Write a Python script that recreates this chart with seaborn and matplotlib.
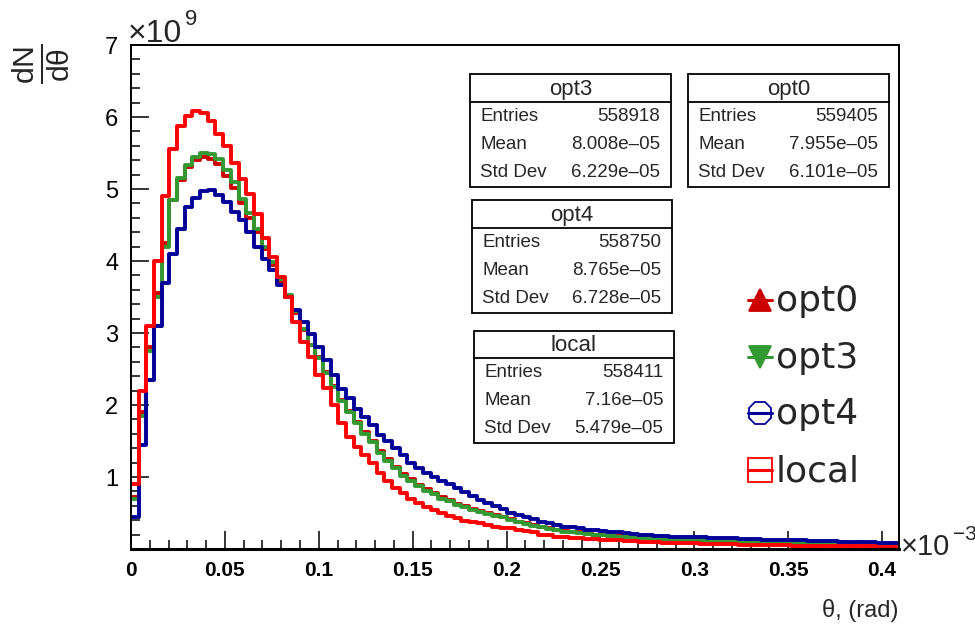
import numpy as np
import pandas as pd
import matplotlib
matplotlib.use("Agg")
import matplotlib.pyplot as plt
from matplotlib.lines import Line2D
from matplotlib.patches import Rectangle
from matplotlib.ticker import MultipleLocator
import seaborn as sns

# ---------------- data (theta in units of 1e-3 rad, dN/dtheta in units of 1e9) -------------
THETA_MAX = 0.409
N_BINS = 100

series_names = ["opt0", "opt3", "opt4", "local"]
series_colors = ["#cc0000", "#339933", "#000099", "#ff0000"]

opt0 = [0.72, 1.9, 2.8, 3.55, 4.25, 4.85, 5.12, 5.3, 5.4, 5.45,
        5.42, 5.35, 5.18, 5.02, 4.8, 4.6, 4.4, 4.16, 3.95, 3.72,
        3.5, 3.28, 3.04, 2.84, 2.66, 2.46, 2.26, 2.07, 1.92, 1.77,
        1.63, 1.5, 1.36, 1.25, 1.14, 1.04, 0.97, 0.89, 0.83, 0.78,
        0.72, 0.68, 0.63, 0.6, 0.56, 0.53, 0.5, 0.47, 0.45, 0.41,
        0.38, 0.36, 0.33, 0.31, 0.29, 0.27, 0.25, 0.24, 0.23, 0.22,
        0.2, 0.19, 0.18, 0.175, 0.17, 0.16, 0.155, 0.15, 0.145, 0.14,
        0.135, 0.13, 0.125, 0.12, 0.115, 0.11, 0.11, 0.105, 0.1, 0.1,
        0.095, 0.09, 0.09, 0.085, 0.085, 0.08, 0.08, 0.076, 0.075, 0.073,
        0.07, 0.068, 0.066, 0.065, 0.063, 0.062, 0.06, 0.058, 0.057, 0.055]

opt3 = [0.7, 1.85, 2.75, 3.5, 4.2, 4.85, 5.15, 5.33, 5.45, 5.5,
        5.48, 5.42, 5.27, 5.1, 4.86, 4.66, 4.45, 4.2, 3.98, 3.75,
        3.53, 3.3, 3.05, 2.84, 2.65, 2.45, 2.25, 2.05, 1.9, 1.75,
        1.6, 1.48, 1.33, 1.22, 1.12, 1.02, 0.95, 0.87, 0.81, 0.76,
        0.7, 0.66, 0.61, 0.58, 0.54, 0.51, 0.49, 0.46, 0.44, 0.4,
        0.37, 0.35, 0.32, 0.3, 0.28, 0.26, 0.24, 0.23, 0.22, 0.21,
        0.2, 0.19, 0.18, 0.17, 0.165, 0.16, 0.155, 0.15, 0.145, 0.14,
        0.14, 0.13, 0.125, 0.12, 0.12, 0.115, 0.11, 0.11, 0.105, 0.1,
        0.1, 0.095, 0.095, 0.09, 0.09, 0.085, 0.085, 0.08, 0.08, 0.078,
        0.075, 0.073, 0.07, 0.07, 0.068, 0.066, 0.065, 0.063, 0.062, 0.06]

opt4 = [0.45, 1.45, 2.35, 3.1, 3.7, 4.1, 4.45, 4.75, 4.87, 4.97,
        4.98, 4.92, 4.82, 4.68, 4.57, 4.4, 4.2, 4.03, 3.87, 3.67,
        3.5, 3.32, 3.15, 2.98, 2.8, 2.62, 2.42, 2.22, 2.1, 1.95,
        1.84, 1.72, 1.58, 1.5, 1.4, 1.3, 1.2, 1.13, 1.05, 1.0,
        0.95, 0.9, 0.85, 0.79, 0.74, 0.68, 0.64, 0.6, 0.55, 0.5,
        0.47, 0.45, 0.42, 0.38, 0.36, 0.34, 0.31, 0.3, 0.29, 0.27,
        0.26, 0.25, 0.24, 0.23, 0.22, 0.21, 0.2, 0.19, 0.18, 0.18,
        0.17, 0.17, 0.17, 0.16, 0.16, 0.15, 0.15, 0.15, 0.15, 0.14,
        0.14, 0.14, 0.13, 0.13, 0.125, 0.125, 0.12, 0.12, 0.115, 0.11,
        0.11, 0.105, 0.1, 0.1, 0.1, 0.095, 0.095, 0.09, 0.09, 0.09]

local = [0.9, 2.2, 3.1, 4.0, 4.9, 5.55, 5.88, 6.02, 6.08, 6.06,
         5.95, 5.76, 5.6, 5.36, 5.14, 4.93, 4.65, 4.32, 4.05, 3.78,
         3.5, 3.15, 2.88, 2.67, 2.42, 2.24, 2.0, 1.75, 1.56, 1.41,
         1.31, 1.2, 1.05, 0.95, 0.85, 0.78, 0.7, 0.64, 0.58, 0.54,
         0.5, 0.46, 0.43, 0.39, 0.37, 0.36, 0.33, 0.31, 0.29, 0.29,
         0.27, 0.25, 0.23, 0.2, 0.19, 0.17, 0.16, 0.155, 0.15, 0.14,
         0.135, 0.13, 0.125, 0.12, 0.115, 0.11, 0.1, 0.1, 0.095, 0.09,
         0.09, 0.085, 0.08, 0.08, 0.075, 0.07, 0.07, 0.065, 0.065, 0.06,
         0.06, 0.058, 0.055, 0.055, 0.05, 0.05, 0.048, 0.046, 0.045, 0.044,
         0.042, 0.04, 0.04, 0.038, 0.037, 0.035, 0.035, 0.034, 0.033, 0.032]

series_values = {"opt0": opt0, "opt3": opt3, "opt4": opt4, "local": local}

# statistics boxes
stat_names = ["opt3", "opt0", "opt4", "local"]
stat_entries = ["558918", "559405", "558750", "558411"]
stat_means = ["8.008e\u201305", "7.955e\u201305", "8.765e\u201305", "7.16e\u201305"]
stat_stds = ["6.229e\u201305", "6.101e\u201305", "6.728e\u201305", "5.479e\u201305"]

x_ticks = [0, 0.05, 0.1, 0.15, 0.2, 0.25, 0.3, 0.35, 0.4]
x_tick_labels = ["0", "0.05", "0.1", "0.15", "0.2", "0.25", "0.3", "0.35", "0.4"]
y_ticks = [1, 2, 3, 4, 5, 6, 7]
y_tick_labels = ["1", "2", "3", "4", "5", "6", "7"]

# ---------------- figure ----------------
sns.set_style("white")
plt.rcParams["font.family"] = ["Liberation Sans", "DejaVu Sans"]
plt.rcParams["mathtext.fontset"] = "custom"
plt.rcParams["mathtext.rm"] = "Liberation Sans"
plt.rcParams["mathtext.it"] = "Liberation Sans"

W, H = 975, 632
def fx(p):
    return p / W
def fy(p):
    return 1 - p / H

fig = plt.figure(figsize=(W / 100, H / 100), dpi=100)
fig.patch.set_facecolor("white")
AX_L, AX_R, AX_T, AX_B = 131, 899, 45, 549
ax = fig.add_axes([fx(AX_L), fy(AX_B), (AX_R - AX_L) / W, (AX_B - AX_T) / H])

edges = np.linspace(0, THETA_MAX, N_BINS + 1)
centers = 0.5 * (edges[:-1] + edges[1:])
rows = []
for name in series_names:
    for c, v in zip(centers, series_values[name]):
        rows.append({"theta": c, "dNdtheta": v, "series": name})
df = pd.DataFrame(rows)

for name, col in zip(series_names, series_colors):
    sub = df[df["series"] == name]
    sns.histplot(data=sub, x="theta", weights="dNdtheta", bins=edges.tolist(),
                 element="step", fill=False, color=col, linewidth=2.8,
                 ax=ax, legend=False)

ax.set_xlim(0, THETA_MAX)
ax.set_ylim(0, 7)
ax.set_xlabel("")
ax.set_ylabel("")

ax.set_xticks(x_ticks)
ax.set_xticklabels(x_tick_labels, fontsize=15, fontweight="bold")
ax.set_yticks(y_ticks)
ax.set_yticklabels(y_tick_labels, fontsize=17)
ax.xaxis.set_minor_locator(MultipleLocator(0.01))
ax.yaxis.set_minor_locator(MultipleLocator(0.2))
ax.tick_params(which="both", bottom=True, left=True, top=False, right=False)
ax.tick_params(which="major", direction="in", length=13, width=1.1,
               colors="black", pad=9)
ax.tick_params(which="minor", direction="in", length=6.5, width=1.1,
               colors="black")
for s in ax.spines.values():
    s.set_color("black")
    s.set_linewidth(1.4)
ax.spines["bottom"].set_linewidth(2.2)
ax.grid(False)

# axis titles / exponents
fig.text(fx(41), fy(64), r"$\frac{\mathrm{dN}}{\mathrm{d}\theta}$", rotation=90,
         fontsize=31, ha="center", va="center")
fig.text(fx(898), fy(617), "\u03b8, (rad)", fontsize=17, ha="right", va="baseline")
fig.text(fx(128), fy(42), "\u00d710", fontsize=23, ha="left", va="baseline")
fig.text(fx(185), fy(25), "9", fontsize=16, ha="left", va="baseline")
fig.text(fx(901), fy(555), "\u00d710", fontsize=21, ha="left", va="baseline")
fig.text(fx(953), fy(540), "\u22123", fontsize=15, ha="left", va="baseline")

# statistics boxes (left, top, right, bottom, title separator) in pixels
box_geom = [(470, 74, 671, 187, 102), (688, 74, 889, 187, 102),
            (472, 200, 672, 313, 228), (474, 331, 674, 443, 358)]
for name, ent, mean, std, (l, t, r, b, sep) in zip(stat_names, stat_entries,
                                                   stat_means, stat_stds, box_geom):
    fig.add_artist(Rectangle((fx(l), fy(b)), (r - l) / W, (b - t) / H,
                             transform=fig.transFigure, facecolor="white",
                             edgecolor="black", linewidth=1.3, zorder=5))
    fig.add_artist(Line2D([fx(l), fx(r)], [fy(sep), fy(sep)],
                          transform=fig.transFigure, color="black",
                          linewidth=1.3, zorder=6))
    fig.text(fx((l + r) / 2), fy((t + sep) / 2 + 1), name, fontsize=16,
             ha="center", va="center", zorder=7)
    labels = ["Entries", "Mean", "Std Dev"]
    vals = [ent, mean, std]
    for k in range(3):
        yy = sep + (b - sep) * (k + 0.5) / 3
        fig.text(fx(l + 10), fy(yy), labels[k], fontsize=13.5, ha="left",
                 va="center", zorder=7)
        fig.text(fx(r - 11), fy(yy), vals[k], fontsize=13.5, ha="right",
                 va="center", zorder=7)

# legend (drawn manually, ROOT style)
leg_rows = [300, 357, 413, 470]
leg_markers = ["^", "v", "8", "s"]
leg_fill = [True, True, False, False]
for name, col, mk, filled, yy in zip(series_names, series_colors, leg_markers,
                                     leg_fill, leg_rows):
    fig.add_artist(Line2D([fx(748), fx(772)], [fy(yy), fy(yy)],
                          transform=fig.transFigure, color=col, linewidth=2.2,
                          zorder=6))
    fig.add_artist(Line2D([fx(760)], [fy(yy)], transform=fig.transFigure,
                          marker=mk, markersize=16 if mk in "^v" else 17,
                          markerfacecolor=col if filled else "none",
                          markeredgecolor=col, markeredgewidth=1.3,
                          linestyle="none", zorder=6))
    fig.text(fx(776), fy(yy + 11), name, fontsize=26, ha="left",
             va="baseline", family="DejaVu Sans", zorder=7)

fig.savefig("out.png", dpi=100, facecolor="white")
